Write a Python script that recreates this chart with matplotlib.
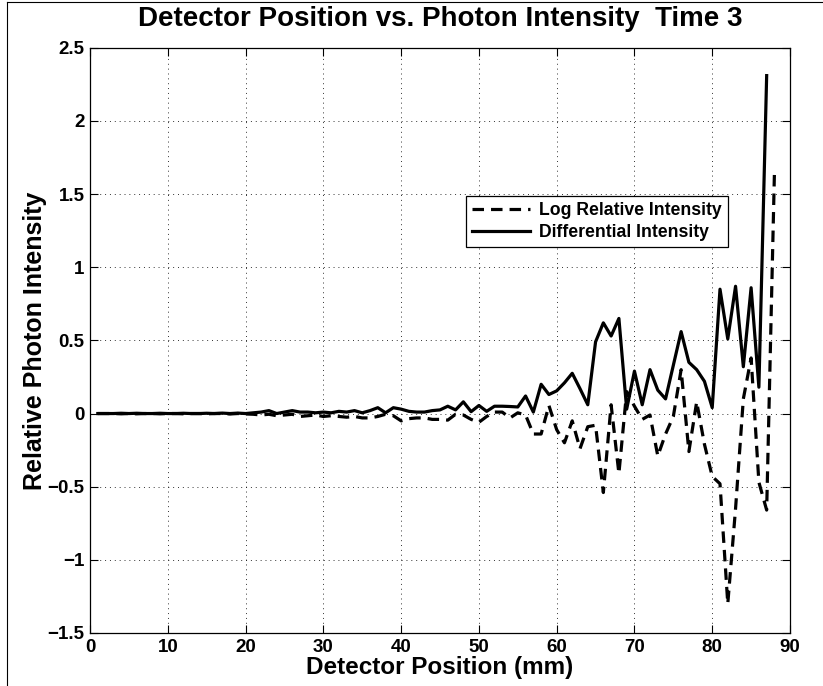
import matplotlib
matplotlib.use("Agg")
import matplotlib.pyplot as plt
from matplotlib.lines import Line2D
import numpy as np

plt.rcParams['font.family'] = ['Liberation Sans', 'DejaVu Sans']
plt.rcParams['font.weight'] = 'bold'

positions = list(range(1, 89))

log_relative = [
    0.0, 0.0, 0.0, -0.002, 0.0, -0.002, 0.0, 0.0, -0.002, 0.0,
    0.0, -0.002, 0.0, 0.0, -0.002, 0.0, 0.0, -0.003, 0.0, -0.003,
    -0.005, -0.01, -0.005, -0.015, -0.01, -0.005, -0.02, -0.015, -0.01, -0.02,
    -0.015, -0.02, -0.025, -0.02, -0.03, -0.03, -0.02, -0.005, -0.015, -0.05,
    -0.035, -0.03, -0.03, -0.04, -0.04, -0.045, -0.005, -0.01, -0.04, -0.06,
    -0.02, 0.01, 0.01, -0.03, 0.005, -0.01, -0.14, -0.14, 0.055, -0.11,
    -0.2, -0.05, -0.24, -0.09, -0.08, -0.54, 0.06, -0.41, 0.15, 0.05,
    -0.04, -0.01, -0.29, -0.14, -0.02, 0.30, -0.26, 0.08, -0.21, -0.43,
    -0.48, -1.30, -0.65, 0.10, 0.38, -0.47, -0.66, 1.65,
]

differential = [
    0.0, 0.0, 0.0, 0.002, 0.0, 0.002, 0.0, 0.0, 0.002, 0.0,
    0.0, 0.002, 0.0, 0.0, 0.002, 0.0, 0.003, 0.0, 0.003, 0.0,
    0.005, 0.01, 0.02, 0.0, 0.01, 0.02, 0.01, 0.01, 0.005, 0.01,
    0.005, 0.015, 0.01, 0.02, 0.005, 0.02, 0.04, 0.005, 0.04, 0.03,
    0.015, 0.01, 0.01, 0.02, 0.025, 0.05, 0.025, 0.08, 0.013, 0.055,
    0.015, 0.05, 0.05, 0.048, 0.045, 0.12, 0.01, 0.2, 0.13, 0.155,
    0.21, 0.275, 0.17, 0.06, 0.49, 0.62, 0.53, 0.65, 0.03, 0.29,
    0.06, 0.30, 0.16, 0.10, 0.33, 0.56, 0.35, 0.30, 0.22, 0.04,
    0.85, 0.51, 0.87, 0.32, 0.86, 0.18, 2.31,
]

x_ticks = [0, 10, 20, 30, 40, 50, 60, 70, 80, 90]
y_ticks = [-1.5, -1, -0.5, 0, 0.5, 1, 1.5, 2, 2.5]
y_tick_labels = ['\u22121.5', '\u22121', '\u22120.5', '0', '0.5', '1', '1.5', '2', '2.5']

fig = plt.figure(figsize=(8.23, 6.86), dpi=100)
ax = fig.add_axes([0.1094, 0.0773, 0.8505, 0.853])

lw = 2.3
ax.plot(positions, log_relative, color='black', lw=lw, linestyle=(0, (3.6, 2.2)),
        label='Log Relative Intensity')
ax.plot(positions[:len(differential)], differential, color='black', lw=lw,
        linestyle='-', label='Differential Intensity')

ax.set_xlim(0, 90)
ax.set_ylim(-1.5, 2.5)
ax.set_xticks(x_ticks)
ax.set_yticks(y_ticks)
ax.set_yticklabels(y_tick_labels)
ax.tick_params(direction='in', top=True, right=True, length=6, width=0.8,
               labelsize=13.5, pad=4)
for lab in ax.get_xticklabels() + ax.get_yticklabels():
    lab.set_fontweight('bold')

ax.grid(True, linestyle=(0, (1, 4)), color='black', lw=0.7, alpha=0.8)
for s in ax.spines.values():
    s.set_linewidth(0.9)

ax.set_title('Detector Position vs. Photon Intensity  Time 3', fontsize=20,
             fontweight='bold', pad=16)
ax.set_xlabel('Detector Position (mm)', fontsize=17.5, fontweight='bold', labelpad=0)
ax.set_ylabel('Relative Photon Intensity', fontsize=18, fontweight='bold', labelpad=0)

leg = ax.legend(loc='upper right', bbox_to_anchor=(0.911, 0.747), fontsize=12.7,
                frameon=True, fancybox=False, edgecolor='black', framealpha=1,
                handlelength=3.3, borderpad=0.35, labelspacing=0.3,
                handletextpad=0.5, borderaxespad=0)
leg.get_frame().set_linewidth(0.9)
for t in leg.get_texts():
    t.set_fontweight('bold')

# figure border (left and top edges visible)
fig.add_artist(Line2D([7 / 823, 7 / 823], [0, 1 - 2 / 686], transform=fig.transFigure,
                      color='black', lw=0.8))
fig.add_artist(Line2D([7 / 823, 1], [1 - 2 / 686, 1 - 2 / 686], transform=fig.transFigure,
                      color='black', lw=0.8))

fig.savefig('out.png', dpi=100)
